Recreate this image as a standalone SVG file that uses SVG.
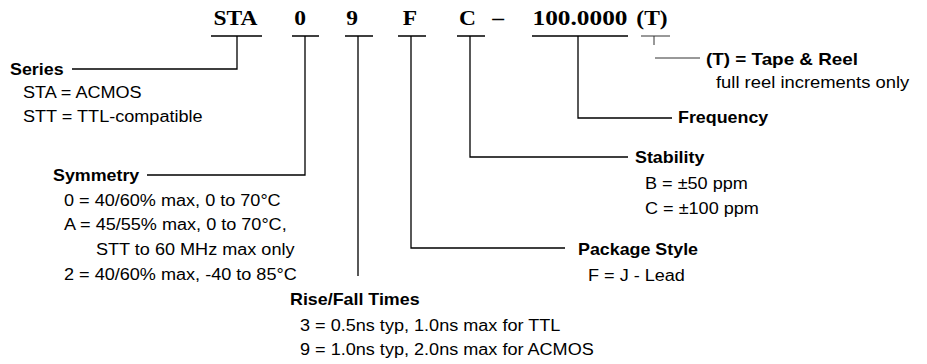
<svg xmlns="http://www.w3.org/2000/svg" width="927" height="364" viewBox="0 0 927 364">
<style>
.code{font-family:"Liberation Serif","Times New Roman",serif;font-weight:bold;font-size:21px;fill:#000;text-anchor:middle}
.lbl{font-family:"Liberation Sans",Arial,sans-serif;font-weight:bold;font-size:17px;fill:#000}
.txt{font-family:"Liberation Sans",Arial,sans-serif;font-size:16px;fill:#000}
.ln{fill:none;stroke:#000;stroke-width:1.3}
.thin{fill:none;stroke:#333;stroke-width:1}
</style>
<rect width="927" height="364" fill="#fff"/>
<g id="code">
<text class="code" transform="translate(235.5,25) scale(1.12,1)">STA</text>
<text class="code" transform="translate(300,25) scale(1.12,1)">0</text>
<text class="code" transform="translate(352,25) scale(1.12,1)">9</text>
<text class="code" transform="translate(410,25) scale(1.12,1)">F</text>
<text class="code" transform="translate(467.5,25) scale(1.12,1)">C</text>
<text class="code" transform="translate(498,25) scale(1.12,1)">–</text>
<text class="code" x="580" y="25" textLength="95" lengthAdjust="spacingAndGlyphs">100.0000</text>
<text class="code" transform="translate(652,25) scale(1.12,1)">(T)</text>
</g>
<g id="connectors">
<path class="ln" d="M211 36H262M237 36V69H72"/>
<path class="ln" d="M292 36H319M305 36V175H147"/>
<path class="ln" d="M345 36H373M358 36V276"/>
<path class="ln" d="M398 36H426M411 36V248H565"/>
<path class="ln" d="M457 36H485M470 36V157H628"/>
<path class="ln" d="M532 36H628M578 36V118H672"/>
<path class="thin" d="M641 36H670M654 36V45M655 58H700"/>
</g>
<g id="series">
<text class="lbl" transform="translate(10,75) scale(1.05,1)">Series</text>
<text class="txt" transform="translate(23,98) scale(1.13,1)">STA = ACMOS</text>
<text class="txt" transform="translate(23,122) scale(1.13,1)">STT = TTL-compatible</text>
</g>
<g id="symmetry">
<text class="lbl" transform="translate(53,181) scale(1.05,1)">Symmetry</text>
<text class="txt" transform="translate(64,206) scale(1.13,1)">0 = 40/60% max, 0 to 70°C</text>
<text class="txt" transform="translate(64,230) scale(1.13,1)">A = 45/55% max, 0 to 70°C,</text>
<text class="txt" transform="translate(96,255) scale(1.13,1)">STT to 60 MHz max only</text>
<text class="txt" transform="translate(64,280) scale(1.13,1)">2 = 40/60% max, -40 to 85°C</text>
</g>
<g id="risefall">
<text class="lbl" transform="translate(290,305) scale(1.05,1)">Rise/Fall Times</text>
<text class="txt" transform="translate(300,331) scale(1.13,1)">3 = 0.5ns typ, 1.0ns max for TTL</text>
<text class="txt" transform="translate(300,355) scale(1.13,1)">9 = 1.0ns typ, 2.0ns max for ACMOS</text>
</g>
<g id="package">
<text class="lbl" transform="translate(578,255) scale(1.05,1)">Package Style</text>
<text class="txt" transform="translate(588,281) scale(1.13,1)">F = J - Lead</text>
</g>
<g id="stability">
<text class="lbl" transform="translate(635,163) scale(1.05,1)">Stability</text>
<text class="txt" transform="translate(645,189) scale(1.13,1)">B = ±50 ppm</text>
<text class="txt" transform="translate(645,214) scale(1.13,1)">C = ±100 ppm</text>
</g>
<g id="frequency">
<text class="lbl" transform="translate(678,123) scale(1.05,1)">Frequency</text>
</g>
<g id="tape">
<text class="lbl" x="706" y="65" textLength="152" lengthAdjust="spacingAndGlyphs">(T) = Tape &amp; Reel</text>
<text class="txt" transform="translate(716,88) scale(1.15,1)">full reel increments only</text>
</g>
</svg>
